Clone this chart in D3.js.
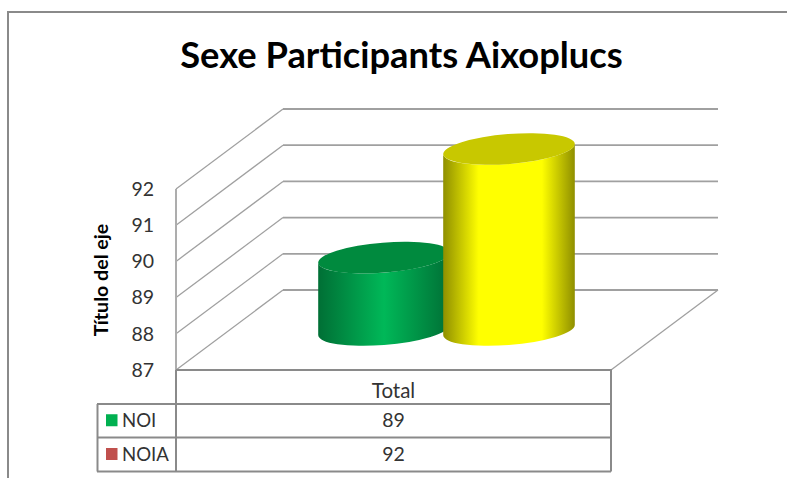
<!DOCTYPE html>
<html><head><meta charset="utf-8">
<script src="https://cdn.jsdelivr.net/npm/d3@7/dist/d3.min.js"></script>
<style>html,body{margin:0;padding:0;background:#fff}svg{display:block}text{font-family:Lato,"Open Sans",sans-serif}</style>
</head><body><svg id="c" width="787" height="478"></svg>
<script>
const chartTitle = "Sexe Participants Aixoplucs";
const axisTitle = "Título del eje";
const categories = ["Total"];
const seriesNames = ["NOI", "NOIA"];
const seriesValues = [89, 92];
const legendColors = ["#00B050", "#C0504D"];
const barColors = ["#00B858", "#FFFF00"];
const topColors = ["#008A3E", "#C8C800"];
const edgeColors = ["#006F35", "#8F8F00"];
const yTicks = [87, 88, 89, 90, 91, 92];

const svg = d3.select("#c");
const GRID = "#a0a0a0", FRAME = "#8a8a8a", TXT = "#333";
const frontL = 176, frontR = 611, depthX = 107, depthY = -80;
const y = d3.scaleLinear().domain([87, 92]).range([370, 189]);
const x = d3.scaleLinear().domain([0, 1]).range([frontL, frontR]);
const series = d3.scaleBand().domain(seriesNames).range([frontL + 145.5, frontL + 395.5]);
const line = d3.line();

svg.append("path").attr("d", line([[8, 478], [8, 12], [787, 12]]))
  .attr("fill", "none").attr("stroke", FRAME).attr("stroke-width", 2);

svg.append("text").attr("x", 401.5).attr("y", 68).attr("text-anchor", "middle")
  .attr("font-size", 36.3).attr("font-weight", 700).attr("fill", "#000").text(chartTitle);

// walls and floor
const grid = svg.append("g").attr("fill", "none").attr("stroke", GRID);
yTicks.forEach(t => {
  const a = y(t);
  grid.append("line").attr("x1", frontL).attr("y1", a).attr("x2", frontL + depthX).attr("y2", a + depthY).attr("stroke-width", 1.3);
  grid.append("line").attr("x1", frontL + depthX).attr("y1", a + depthY).attr("x2", frontR + depthX).attr("y2", a + depthY).attr("stroke-width", 1.8);
});
grid.append("line").attr("x1", frontR + depthX).attr("y1", y(87) + depthY).attr("x2", frontR).attr("y2", y(87)).attr("stroke-width", 1.3);
grid.append("line").attr("x1", frontL).attr("x2", frontL).attr("y1", y(92)).attr("y2", y(87)).attr("stroke-width", 2).attr("stroke", "#adadad");

const ax = svg.append("g").attr("transform", `translate(${frontL},0)`)
  .call(d3.axisLeft(y).tickValues(yTicks).tickSize(0).tickPadding(22).tickFormat(d3.format("d")));
ax.select(".domain").remove();
ax.selectAll("text").attr("font-size", 19.5).attr("fill", TXT).style("font-family", "Lato,'Open Sans',sans-serif");

svg.append("text").attr("transform", "translate(108,280) rotate(-90)").attr("text-anchor", "middle")
  .attr("font-size", 19.6).attr("font-weight", 700).attr("fill", "#000").text(axisTitle);

// cylinders
const defs = svg.append("defs");
const gradStops = [[0, 0.5, 0.5, 1], [0, 0.27, 0.75, 1]];
seriesNames.forEach((n, i) => {
  const g = defs.append("linearGradient").attr("id", "cyl" + i);
  const c = [edgeColors[i], barColors[i], barColors[i], edgeColors[i]];
  gradStops[i].forEach((o, k) => g.append("stop").attr("offset", o).attr("stop-color", c[k]));
});
const rx = 66, ry = 15, tilt = -4.6, th = tilt * Math.PI / 180;
const yMid = v => y(v) + depthY / 2;
// point of the tilted ellipse where its outline turns vertical
const u0 = Math.atan2(-ry * Math.sin(th), rx * Math.cos(th));
const sx = rx * Math.cos(u0) * Math.cos(th) - ry * Math.sin(u0) * Math.sin(th);
const sy = rx * Math.cos(u0) * Math.sin(th) + ry * Math.sin(u0) * Math.cos(th);
seriesNames.forEach((n, i) => {
  const cx = series(n) + series.bandwidth() / 2;
  const t = yMid(seriesValues[i]), b = yMid(87);
  const body = `M${cx - sx},${t - sy} L${cx - sx},${b - sy} A${rx},${ry} ${tilt} 0 0 ${cx + sx},${b + sy} L${cx + sx},${t + sy} A${rx},${ry} ${tilt} 0 1 ${cx - sx},${t - sy} Z`;
  const gg = svg.append("g");
  gg.append("path").attr("d", body).attr("fill", `url(#cyl${i})`);
  gg.append("ellipse").attr("cx", cx).attr("cy", t).attr("rx", rx).attr("ry", ry)
    .attr("transform", `rotate(${tilt} ${cx} ${t})`).attr("fill", topColors[i]);
});

// data table
const rowY = [370, 404, 437.5, 471.5];
const tbl = svg.append("g").attr("fill", "none").attr("stroke", FRAME).attr("stroke-width", 2);
tbl.append("path").attr("d", line([[frontL, rowY[0]], [frontR, rowY[0]], [frontR, rowY[3]]]));
tbl.append("path").attr("d", line([[frontL, rowY[0]], [frontL, rowY[3]]]));
[1, 2, 3].forEach(k => tbl.append("line").attr("x1", 97).attr("x2", frontR).attr("y1", rowY[k]).attr("y2", rowY[k]));
tbl.append("line").attr("x1", 97.5).attr("x2", 97.5).attr("y1", rowY[1]).attr("y2", rowY[3]);

const midX = x(0.5);
svg.append("text").attr("x", midX).attr("y", 398).attr("text-anchor", "middle").attr("font-size", 20.5).attr("fill", TXT).text(categories[0]);
seriesNames.forEach((n, i) => {
  const cy = (rowY[i + 1] + rowY[i + 2]) / 2;
  svg.append("rect").attr("x", 106).attr("y", cy - 6.5).attr("width", 11.5).attr("height", 12).attr("fill", legendColors[i]);
  svg.append("text").attr("x", 122).attr("y", cy + 6).attr("font-size", 18.6).attr("fill", TXT).text(n);
  svg.append("text").attr("x", midX).attr("y", cy + 6).attr("text-anchor", "middle").attr("font-size", 19.5).attr("fill", TXT).text(seriesValues[i]);
});
</script></body></html>
